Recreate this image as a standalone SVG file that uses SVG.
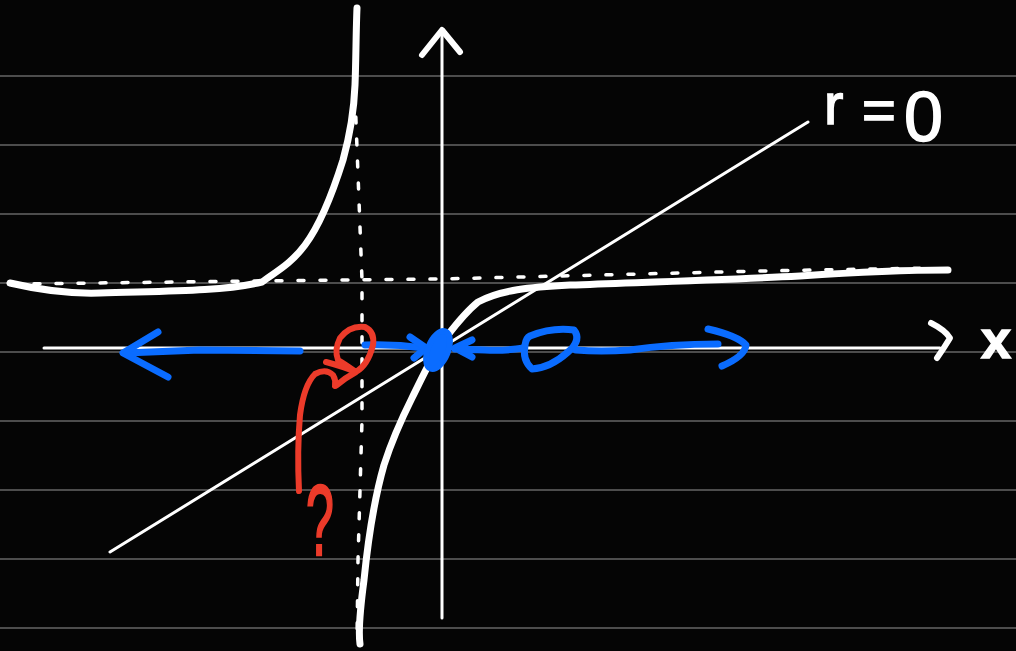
<svg xmlns="http://www.w3.org/2000/svg" width="1016" height="651" viewBox="0 0 1016 651">
<style>
.grid{stroke:#4d4d4d;stroke-width:2}
.w{fill:none;stroke:#fff;stroke-linecap:round;stroke-linejoin:round}
.b{fill:none;stroke:#0a6cff;stroke-width:7;stroke-linecap:round;stroke-linejoin:round}
.r{fill:none;stroke:#ec3b2a;stroke-width:6;stroke-linecap:round;stroke-linejoin:round}
.dash{fill:none;stroke:#fff;stroke-width:3.5;stroke-linecap:round;stroke-dasharray:6 16}
.lbl{font-family:"Liberation Sans",Arial,sans-serif;fill:#fff;stroke:#fff;stroke-width:1.5}
</style>
<rect width="1016" height="651" fill="#050505"/>
<g id="grid">
<line class="grid" x1="0" y1="76" x2="1016" y2="76"/>
<line class="grid" x1="0" y1="145" x2="1016" y2="145"/>
<line class="grid" x1="0" y1="214" x2="1016" y2="214"/>
<line class="grid" x1="0" y1="283" x2="1016" y2="283"/>
<line class="grid" x1="0" y1="352" x2="1016" y2="352"/>
<line class="grid" x1="0" y1="421" x2="1016" y2="421"/>
<line class="grid" x1="0" y1="490" x2="1016" y2="490"/>
<line class="grid" x1="0" y1="559" x2="1016" y2="559"/>
<line class="grid" x1="0" y1="628" x2="1016" y2="628"/>
</g>
<g id="axes">
<line class="w" x1="44" y1="348" x2="940" y2="348" stroke-width="3"/>
<path class="w" stroke-width="6" d="M931,323 Q945,330 950,338 Q944,348 937,358"/>
<line class="w" x1="442" y1="30" x2="442" y2="618" stroke-width="3"/>
<path class="w" stroke-width="6" d="M422,55 L442,30 L460,52"/>
<text class="lbl" x="981" y="358" font-size="54" font-weight="bold">x</text>
</g>
<g id="line-r0">
<line class="w" x1="110" y1="552" x2="808" y2="122" stroke-width="3"/>
<text class="lbl" x="824" y="124" font-size="58">r</text>
<text class="lbl" x="862" y="130" font-size="58">=</text>
<text class="lbl" x="904" y="141" font-size="70">0</text>
</g>
<g id="asymptotes">
<path class="dash" d="M12,284 L260,281 L440,279 L600,275 L760,271 L930,268"/>
<path class="dash" d="M355,95 L362,280 L362,420 L358,560 L357,640"/>
</g>
<g id="curves">
<path class="w" stroke-width="7" d="M10,283 C40,290 70,294 100,293 C160,291 220,292 262,282 C275,272 290,265 305,245 C320,225 332,195 343,160 C350,135 354,110 355,85 C356,60 356,30 357,8"/>
<path class="w" stroke-width="7" d="M360,644 C358,630 360,610 364,580 C368,540 374,500 384,465 C392,440 402,418 412,398 C422,378 430,360 440,345 C452,330 462,315 478,302 C500,290 530,287 570,285 C650,282 720,280 800,276 C860,272 910,270 948,270"/>
</g>
<g id="blue-flow">
<path class="b" d="M300,351 L200,350 L125,353"/>
<path class="b" d="M158,332 L123,353 L168,377"/>
<path class="b" d="M365,345 Q395,344 424,348"/>
<path class="b" d="M410,337 L426,348 L414,358"/>
<ellipse cx="438" cy="350" rx="10" ry="20" fill="#0a6cff" stroke="#0a6cff" stroke-width="6" transform="rotate(22 438 350)"/>
<path class="b" d="M472,340 L455,348 L472,357 M455,349 L485,350 Q505,351 524,348"/>
<path class="b" d="M530,336 Q552,327 574,330 Q582,340 568,352 Q550,368 532,369 Q522,360 525,345 Q526,338 530,336 Z"/>
<path class="b" d="M576,350 Q600,352 630,350 Q670,344 718,344"/>
<path class="b" d="M708,329 Q738,336 746,345 Q745,356 722,366"/>
</g>
<g id="red-question">
<path class="r" d="M299,491 Q297,450 300,415 Q304,385 315,374 Q326,368 333,375 Q336,380 335,386"/>
<path class="r" d="M326,362 Q345,367 356,372 Q368,365 373,345 Q375,332 365,327 Q350,325 340,338 Q334,350 338,360 Q345,364 356,372 Q345,378 337,385"/>
<text x="320" y="555" font-family="'Liberation Sans',Arial,sans-serif" font-size="100" fill="#ec3b2a" stroke="#ec3b2a" stroke-width="2.5" text-anchor="middle" transform="translate(320 0) scale(0.5 1) translate(-320 0)">?</text>
</g>
</svg>
